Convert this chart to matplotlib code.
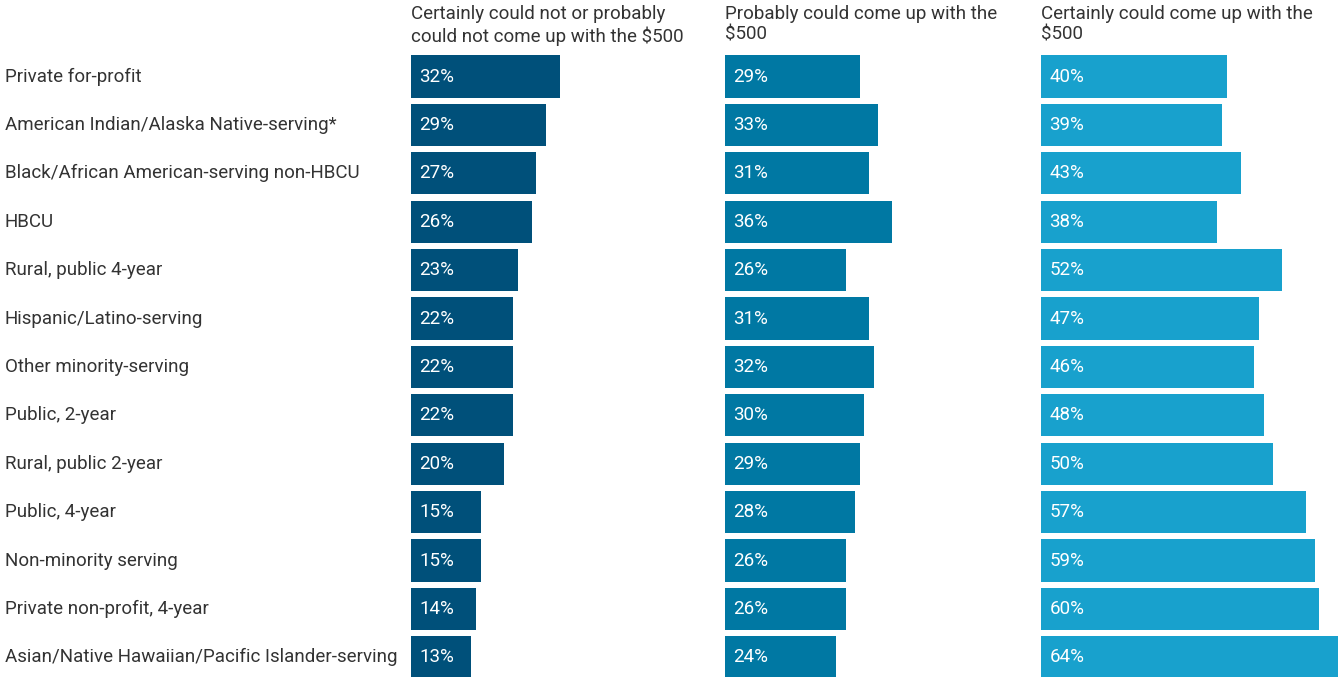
import matplotlib
matplotlib.use("Agg")
import matplotlib.pyplot as plt

plt.rcParams['font.family'] = ['Roboto', 'DejaVu Sans']

categories = [
    "Private for-profit",
    "American Indian/Alaska Native-serving*",
    "Black/African American-serving non-HBCU",
    "HBCU",
    "Rural, public 4-year",
    "Hispanic/Latino-serving",
    "Other minority-serving",
    "Public, 2-year",
    "Rural, public 2-year",
    "Public, 4-year",
    "Non-minority serving",
    "Private non-profit, 4-year",
    "Asian/Native Hawaiian/Pacific Islander-serving",
]
could_not = [32, 29, 27, 26, 23, 22, 22, 22, 20, 15, 15, 14, 13]
probably_could = [29, 33, 31, 36, 26, 31, 32, 30, 29, 28, 26, 26, 24]
certainly_could = [40, 39, 43, 38, 52, 47, 46, 48, 50, 57, 59, 60, 64]

titles = [
    "Certainly could not or probably\ncould not come up with the $500",
    "Probably could come up with the\n$500",
    "Certainly could come up with the\n$500",
]
series = [could_not, probably_could, certainly_could]
colors = ["#00507a", "#0078a3", "#18a1cd"]

W, H = 1338, 677
fig = plt.figure(figsize=(W / 100, H / 100), dpi=100)

# pixel layout of the three panels
lefts = [411, 725, 1041]
panel_w = 297
top_px, bot_px = 52, 677
pitch = 48.4
first_center = 76.5
y_top = (top_px - first_center) / pitch
y_bot = (bot_px - first_center) / pitch
rows = list(range(len(categories)))

text_color = "#333333"
fs = 13.5

for k, (vals, title, col) in enumerate(zip(series, titles, colors)):
    ax = fig.add_axes([lefts[k] / W, 1 - bot_px / H, panel_w / W, (bot_px - top_px) / H])
    ax.barh(rows, vals, height=0.87, color=col)
    ax.set_xlim(0, 64)
    ax.set_ylim(y_bot, y_top)
    ax.axis("off")
    for r, v in zip(rows, vals):
        ax.text(1.8, r, f"{v}%", color="white", fontsize=fs, va="center", ha="left")
    fig.text(lefts[k] / W, 1 - 5 / H, title, ha="left", va="top", fontsize=fs,
             color=text_color, linespacing=1.2)

# category labels along the left
lab_ax = fig.add_axes([0, 1 - bot_px / H, 400 / W, (bot_px - top_px) / H])
lab_ax.set_xlim(0, 400)
lab_ax.set_ylim(y_bot, y_top)
lab_ax.axis("off")
for r, c in zip(rows, categories):
    lab_ax.text(5, r, c, ha="left", va="center", fontsize=fs, color=text_color)

fig.savefig("out.png", dpi=100)
